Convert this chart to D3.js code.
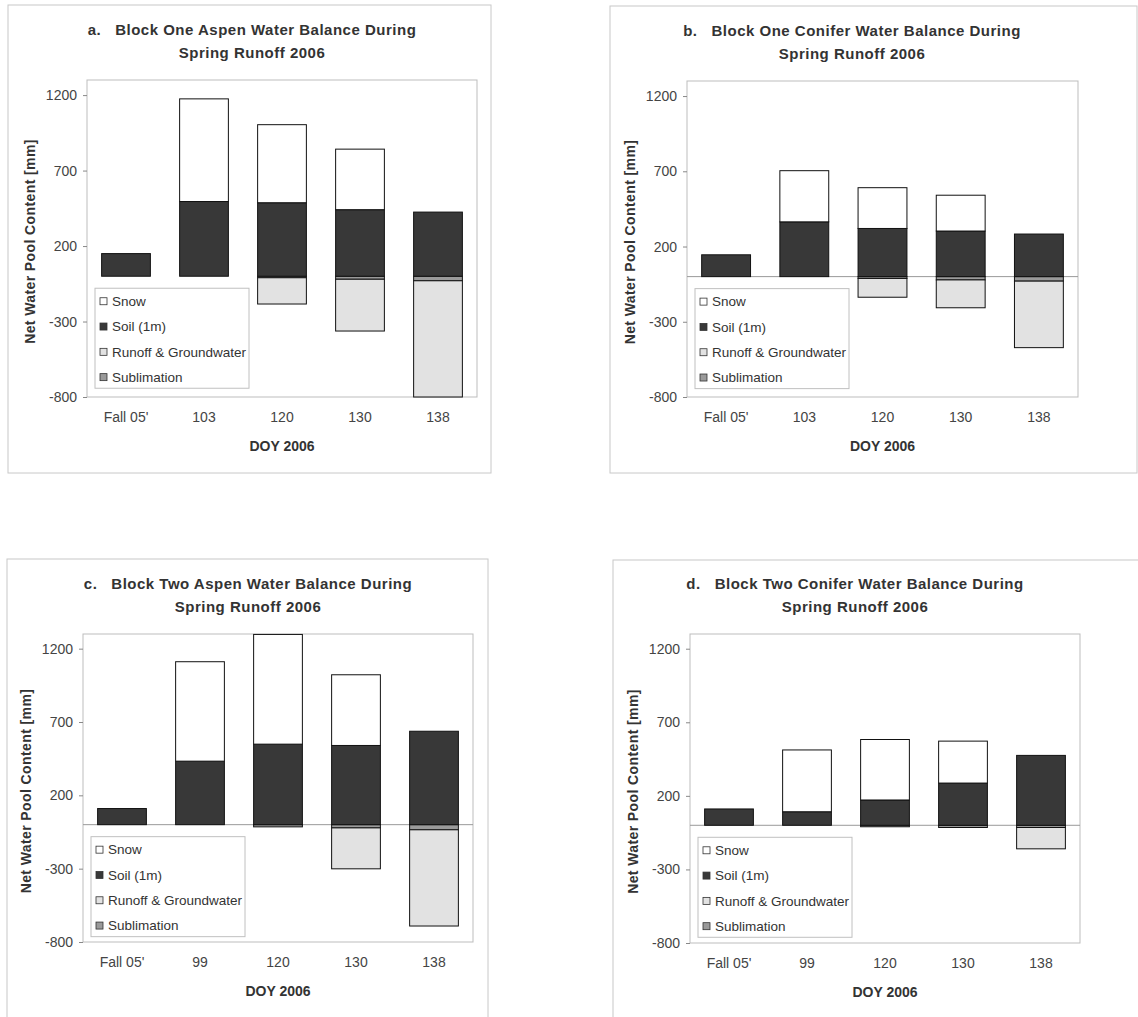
<!DOCTYPE html>
<html>
<head>
<meta charset="utf-8">
<script src="https://cdn.jsdelivr.net/npm/d3@7"></script>
<style>
  body { margin: 0; background: #fff; }
  text { font-family: "Liberation Sans", Arial, sans-serif; }
</style>
</head>
<body>
<div class="chart"></div>
<script>
// categories
const catsOne = ["Fall 05'", "103", "120", "130", "138"];
const catsTwo = ["Fall 05'", "99", "120", "130", "138"];
const yTicks = [-800, -300, 200, 700, 1200];
const legendNames = ["Snow", "Soil (1m)", "Runoff & Groundwater", "Sublimation"];

// a. block one aspen
const aSnow   = [0, 680, 517, 401, 0];
const aSoil   = [150, 495, 487, 441, 425];
const aRunoff = [0, 0, -174, -343, -770];
const aSubl   = [0, 0, -10, -20, -30];

// b. block one conifer
const bSnow   = [0, 340, 271, 238, 0];
const bSoil   = [145, 364, 320, 303, 283];
const bRunoff = [0, 0, -125, -185, -442];
const bSubl   = [0, 0, -12, -22, -30];

// c. block two aspen
const cSnow   = [0, 678, 748, 482, 0];
const cSoil   = [110, 433, 549, 540, 637];
const cRunoff = [0, 0, 0, -279, -656];
const cSubl   = [0, 0, -15, -22, -35];

// d. block two conifer
const dSnow   = [0, 420, 411, 285, 0];
const dSoil   = [111, 92, 172, 287, 475];
const dRunoff = [0, 0, 0, 0, -145];
const dSubl   = [0, 0, -10, -15, -15];

const fills = { snow: "#ffffff", soil: "#383838", runoff: "#e2e2e2", subl: "#9a9a9a" };
const legendKeys = ["snow", "soil", "runoff", "subl"];

const svg = d3.select(".chart").append("svg")
    .attr("width", 1138)
    .attr("height", 1017);

function drawPanel(p) {
    const g = svg.append("g");

    // outer frame
    g.append("rect")
        .attr("x", p.frame[0]).attr("y", p.frame[1])
        .attr("width", p.frame[2] - p.frame[0]).attr("height", p.frame[3] - p.frame[1])
        .attr("fill", "none").attr("stroke", "#c8c8c8");

    const left = p.plot[0], top = p.plot[1], right = p.plot[2], bottom = p.plot[3];

    const x = d3.scaleBand().domain(p.cats).range([left, right])
        .paddingInner(0.375).paddingOuter(0.1875);
    const y = d3.scaleLinear().domain([-800, 1300]).range([bottom, top]).clamp(true);

    // plot area
    g.append("rect")
        .attr("x", left).attr("y", top)
        .attr("width", right - left).attr("height", bottom - top)
        .attr("fill", "none").attr("stroke", "#bdbdbd");

    // titles
    const tx = left + 165;
    g.append("text").attr("x", tx).attr("y", top - 45)
        .attr("text-anchor", "middle").attr("font-size", "15px").attr("font-weight", "bold")
        .attr("fill", "#333").attr("letter-spacing", "0.5px")
        .style("white-space", "pre")
        .text(p.title);
    g.append("text").attr("x", tx).attr("y", top - 22)
        .attr("text-anchor", "middle").attr("font-size", "15px").attr("font-weight", "bold")
        .attr("fill", "#333").attr("letter-spacing", "0.5px")
        .text("Spring Runoff 2006");

    // y axis
    const yAxis = g.append("g")
        .attr("transform", `translate(${left},0)`)
        .call(d3.axisLeft(y).tickValues(yTicks).tickSize(4).tickPadding(6).tickFormat(d => String(d)));
    yAxis.select(".domain").remove();
    yAxis.selectAll("line").attr("stroke", "#888");
    yAxis.selectAll("text").attr("font-size", "14px").attr("fill", "#444")
        .attr("font-family", "Liberation Sans, Arial, sans-serif");

    // x labels
    const xAxis = g.append("g")
        .attr("transform", `translate(0,${bottom})`)
        .call(d3.axisBottom(x).tickSize(0).tickPadding(15));
    xAxis.select(".domain").remove();
    xAxis.selectAll("text").attr("font-size", "14px").attr("fill", "#444")
        .attr("font-family", "Liberation Sans, Arial, sans-serif");

    // axis titles
    g.append("text")
        .attr("transform", `translate(${left - 52},${(top + bottom) / 2 + 3}) rotate(-90)`)
        .attr("text-anchor", "middle").attr("font-size", "14px").attr("font-weight", "bold")
        .attr("fill", "#333").attr("letter-spacing", "0.4px")
        .text("Net Water Pool Content [mm]");
    g.append("text")
        .attr("x", (left + right) / 2).attr("y", bottom + 54)
        .attr("text-anchor", "middle").attr("font-size", "14px").attr("font-weight", "bold")
        .attr("fill", "#333")
        .text("DOY 2006");

    // stacked bars
    const rows = p.cats.map((c, i) => ({
        cat: c, snow: p.snow[i], soil: p.soil[i], runoff: p.runoff[i], subl: p.subl[i]
    }));
    const stack = d3.stack()
        .keys(["subl", "runoff", "soil", "snow"])
        .offset(d3.stackOffsetDiverging);
    const layers = stack(rows);

    if (p.zeroLine) {
        g.append("line")
            .attr("x1", left).attr("x2", right)
            .attr("y1", y(0)).attr("y2", y(0))
            .attr("stroke", "#999");
    }

    g.selectAll("g.layer")
        .data(layers)
        .enter()
        .append("g")
        .attr("class", "layer")
        .attr("fill", d => fills[d.key])
        .selectAll("rect")
        .data(d => d.filter(s => s[1] - s[0] !== 0))
        .enter()
        .append("rect")
        .attr("x", d => x(d.data.cat))
        .attr("width", x.bandwidth())
        .attr("y", d => y(Math.max(d[0], d[1])))
        .attr("height", d => Math.abs(y(d[0]) - y(d[1])))
        .attr("stroke", "#111")
        .attr("stroke-width", 1);

    // legend
    const lx = left + 8, ly = y(0) + 12;
    const lg = g.append("g").attr("transform", `translate(${lx},${ly})`);
    lg.append("rect")
        .attr("width", 154).attr("height", 100)
        .attr("fill", "#fff").attr("stroke", "#c0c0c0");
    const items = lg.selectAll("g.item")
        .data(legendNames)
        .enter()
        .append("g")
        .attr("class", "item")
        .attr("transform", (d, i) => `translate(5,${13 + i * 25.3})`);
    items.append("rect")
        .attr("x", 0).attr("y", -3.5)
        .attr("width", 7).attr("height", 7)
        .attr("fill", (d, i) => fills[legendKeys[i]])
        .attr("stroke", "#333").attr("stroke-width", 0.8);
    items.append("text")
        .attr("x", 12).attr("dy", "0.35em")
        .attr("font-size", "13.5px").attr("fill", "#333")
        .text(d => d);
}

drawPanel({
    title: "a.   Block One Aspen Water Balance During",
    cats: catsOne, snow: aSnow, soil: aSoil, runoff: aRunoff, subl: aSubl,
    frame: [8, 5, 491, 473], plot: [87, 80, 477, 397], zeroLine: false
});
drawPanel({
    title: "b.   Block One Conifer Water Balance During",
    cats: catsOne, snow: bSnow, soil: bSoil, runoff: bRunoff, subl: bSubl,
    frame: [610, 6, 1137, 473], plot: [687, 81, 1078, 397], zeroLine: true
});
drawPanel({
    title: "c.   Block Two Aspen Water Balance During",
    cats: catsTwo, snow: cSnow, soil: cSoil, runoff: cRunoff, subl: cSubl,
    frame: [7, 559, 488, 1030], plot: [83, 634, 473, 942], zeroLine: true
});
drawPanel({
    title: "d.   Block Two Conifer Water Balance During",
    cats: catsTwo, snow: dSnow, soil: dSoil, runoff: dRunoff, subl: dSubl,
    frame: [613, 560, 1150, 1030], plot: [690, 634, 1080, 943], zeroLine: true
});
</script>
</body>
</html>
